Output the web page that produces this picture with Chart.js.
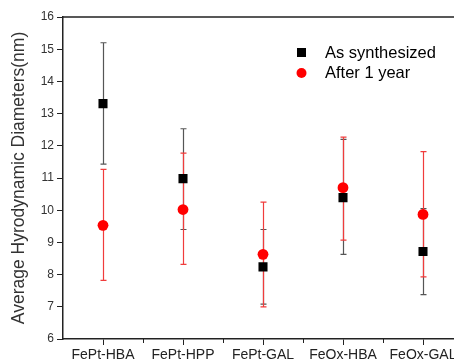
<!DOCTYPE html>
<html lang="en">
<head>
    <meta charset="UTF-8">
    <title>Hydrodynamic Diameters</title>
    <script src="https://cdn.jsdelivr.net/npm/chart.js"></script>
    <style>
        body {
            margin: 0;
            background: #ffffff;
            overflow: hidden;
        }
        .wrap {
            position: relative;
            width: 480px;
            height: 362px;
        }
    </style>
</head>
<body>
    <div class="wrap">
        <canvas id="dlsChart" width="480" height="362"></canvas>
    </div>

    <script>
        // data
        const samples = ['FePt-HBA', 'FePt-HPP', 'FePt-GAL', 'FeOx-HBA', 'FeOx-GAL'];
        const asSynth = [13.31, 10.98, 8.24, 10.39, 8.72];
        const asSynthHigh = [15.2, 12.53, 9.4, 12.2, 10.05];
        const asSynthLow = [11.43, 9.4, 7.08, 8.63, 7.38];
        const afterYear = [9.53, 10.02, 8.63, 10.7, 9.87];
        const afterYearHigh = [11.27, 11.77, 10.25, 12.27, 11.82];
        const afterYearLow = [7.82, 8.32, 7.0, 9.07, 7.93];
        const yTicks = [6, 7, 8, 9, 10, 11, 12, 13, 14, 15, 16];

        const font = 'Arial, "Liberation Sans", sans-serif';

        // error bars, frame, minor ticks and legend
        const extras = {
            id: 'extras',
            beforeDatasetsDraw(chart) {
                const ctx = chart.ctx;
                const x = chart.scales.x, y = chart.scales.y;
                const bars = [
                    { hi: asSynthHigh, lo: asSynthLow, color: '#555555' },
                    { hi: afterYearHigh, lo: afterYearLow, color: '#f03c3c' }
                ];
                ctx.save();
                ctx.lineWidth = 1.2;
                bars.forEach(b => {
                    ctx.strokeStyle = b.color;
                    samples.forEach((s, i) => {
                        const px = Math.round(x.getPixelForValue(i)) + 0.5;
                        const top = y.getPixelForValue(b.hi[i]);
                        const bot = y.getPixelForValue(b.lo[i]);
                        ctx.beginPath();
                        ctx.moveTo(px, top);
                        ctx.lineTo(px, bot);
                        ctx.moveTo(px - 3, top);
                        ctx.lineTo(px + 3, top);
                        ctx.moveTo(px - 3, bot);
                        ctx.lineTo(px + 3, bot);
                        ctx.stroke();
                    });
                });
                ctx.restore();
            },
            afterDraw(chart) {
                const ctx = chart.ctx;
                const a = chart.chartArea;
                const x = chart.scales.x;
                ctx.save();
                ctx.strokeStyle = '#222222';
                ctx.lineWidth = 1.5;
                ctx.beginPath();
                ctx.moveTo(a.left, a.top);
                ctx.lineTo(a.right, a.top);
                ctx.lineTo(a.right, a.bottom);
                ctx.stroke();
                // minor ticks between categories
                ctx.lineWidth = 1;
                for (let i = 0; i < samples.length - 1; i++) {
                    const px = Math.round((x.getPixelForValue(i) + x.getPixelForValue(i + 1)) / 2) + 0.5;
                    ctx.beginPath();
                    ctx.moveTo(px, a.bottom);
                    ctx.lineTo(px, a.bottom + 4);
                    ctx.stroke();
                }
                // legend
                ctx.font = '16.5px ' + font;
                ctx.textBaseline = 'middle';
                ctx.fillStyle = '#000000';
                ctx.fillRect(297, 48, 9, 9);
                ctx.fillText(chart.data.datasets[0].label, 325, 53);
                ctx.fillStyle = '#ff0000';
                ctx.beginPath();
                ctx.arc(301.5, 73, 5, 0, Math.PI * 2);
                ctx.fill();
                ctx.fillStyle = '#000000';
                ctx.fillText(chart.data.datasets[1].label, 325, 73);
                ctx.restore();
            }
        };

        new Chart(document.getElementById('dlsChart').getContext('2d'), {
            type: 'line',
            data: {
                labels: samples,
                datasets: [
                    {
                        label: 'As synthesized',
                        data: asSynth,
                        showLine: false,
                        pointStyle: 'rect',
                        pointRadius: 6.4,
                        borderWidth: 0,
                        backgroundColor: '#000000',
                        borderColor: '#000000'
                    },
                    {
                        label: 'After 1 year',
                        data: afterYear,
                        showLine: false,
                        pointStyle: 'circle',
                        pointRadius: 5.4,
                        borderWidth: 0,
                        backgroundColor: '#ff0000',
                        borderColor: '#ff0000'
                    }
                ]
            },
            options: {
                responsive: false,
                animation: false,
                devicePixelRatio: 1,
                layout: { padding: { left: 0, top: 17, right: 17, bottom: 0 } },
                plugins: {
                    legend: { display: false },
                    tooltip: { enabled: false }
                },
                scales: {
                    x: {
                        type: 'category',
                        offset: true,
                        afterFit(scale) { scale.height = 23; },
                        grid: {
                            offset: false,
                            drawOnChartArea: false,
                            tickLength: 6,
                            color: '#222222'
                        },
                        border: { color: '#222222', width: 1.5 },
                        ticks: {
                            padding: 2,
                            maxRotation: 0,
                            autoSkip: false,
                            color: '#222222',
                            font: { family: font, size: 14 }
                        }
                    },
                    y: {
                        min: 6,
                        max: 16,
                        afterFit(scale) { scale.width = 63; },
                        afterBuildTicks(scale) {
                            scale.ticks = yTicks.map(v => ({ value: v }));
                        },
                        grid: {
                            drawOnChartArea: false,
                            tickLength: 6,
                            color: '#222222'
                        },
                        border: { color: '#222222', width: 1.5 },
                        ticks: {
                            padding: 3,
                            color: '#333333',
                            font: { family: font, size: 12 }
                        },
                        title: {
                            display: true,
                            text: 'Average Hyrodynamic Diameters(nm)',
                            color: '#333333',
                            padding: { top: 9, bottom: 0 },
                            font: { family: font, size: 17.5 }
                        }
                    }
                }
            },
            plugins: [extras]
        });
    </script>
</body>
</html>
